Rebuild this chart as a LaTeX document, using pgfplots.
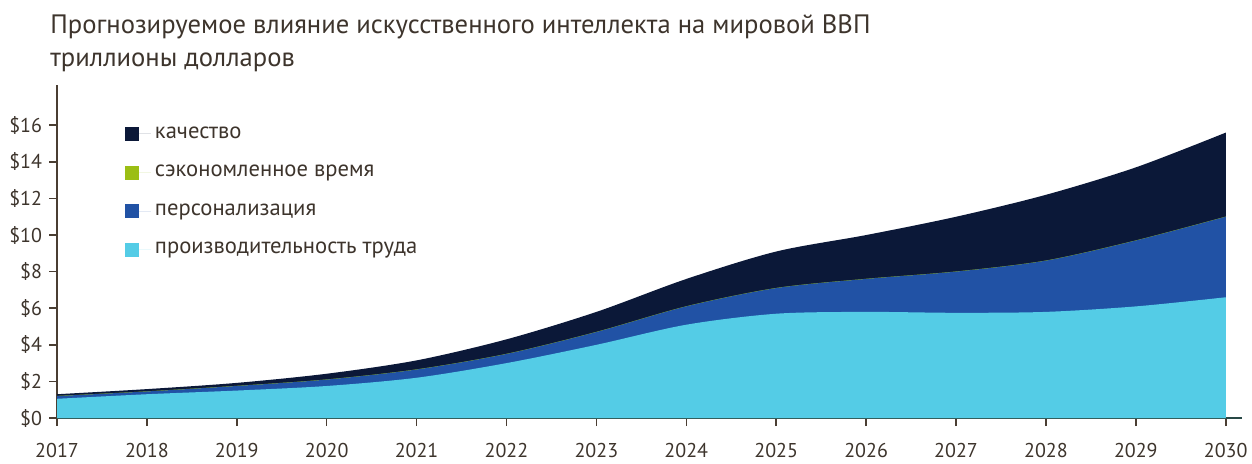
\documentclass[border=0pt]{standalone}
\usepackage{fontspec}
\setmainfont{PT Sans}
\usepackage{pgfplots}
\pgfplotsset{compat=1.18}

\definecolor{prodcol}{RGB}{84,204,230}
\definecolor{perscol}{RGB}{33,82,165}
\definecolor{timecol}{RGB}{155,190,20}
\definecolor{qualcol}{RGB}{11,24,56}
\definecolor{txtcol}{RGB}{61,52,44}
\definecolor{yaxcol}{RGB}{74,62,51}
\definecolor{xaxcol}{RGB}{40,72,70}

% cumulative tops of the stacked areas, trillion USD
\begin{document}
\begin{tikzpicture}
\path[use as bounding box] (0,0) rectangle (626pt,231.5pt);

\node[anchor=base west, font=\fontsize{13.3}{15}\selectfont, text=txtcol, inner sep=0pt]
  at (25pt,215pt) {Прогнозируемое влияние искусственного интеллекта на мировой ВВП};
\node[anchor=base west, font=\fontsize{13.3}{15}\selectfont, text=txtcol, inner sep=0pt]
  at (25pt,198.5pt) {триллионы долларов};

\begin{axis}[
  at={(28.5pt,22.5pt)}, anchor=south west,
  scale only axis,
  width=592.5pt, height=166.5pt,
  xmin=2017, xmax=2030.18,
  ymin=0, ymax=18.2,
  axis lines*=left,
  axis line style={-},
  x axis line style={xaxcol, line width=1.2pt},
  y axis line style={yaxcol, line width=1pt},
  xtick={2017,...,2030},
  ytick={0,2,...,16},
  tick align=outside,
  major tick length=4pt,
  tick style={yaxcol, line width=0.8pt},
  /pgf/number format/1000 sep={},
  /pgf/number format/assume math mode=true,
  yticklabel={\$\pgfmathprintnumber{\tick}},
  ticklabel style={font=\fontsize{10}{12}\selectfont, text=txtcol},
  xticklabel style={yshift=-5pt},
  legend style={at={(0.057,0.888)}, anchor=north west, draw=none, fill=none,
    font=\fontsize{11.3}{13}\selectfont, text=txtcol,
    row sep=8pt, inner sep=0pt},
  legend cell align=left,
  legend image code/.code={\fill[#1] (0pt,-3.5pt) rectangle (7pt,3.5pt);
    \path (0pt,0pt) -- (13pt,0pt);},
  clip=false,
]
\addplot[draw=none, fill=qualcol, smooth] coordinates {
 (2017,1.3) (2018,1.58) (2019,1.92) (2020,2.42) (2021,3.15) (2022,4.3) (2023,5.8)
 (2024,7.6) (2025,9.1) (2026,10.0) (2027,11.0) (2028,12.2) (2029,13.7) (2030,15.6)
} \closedcycle;
\addplot[draw=none, fill=timecol, smooth] coordinates {
 (2017,1.21) (2018,1.46) (2019,1.76) (2020,2.11) (2021,2.66) (2022,3.51) (2023,4.71)
 (2024,6.11) (2025,7.11) (2026,7.61) (2027,8.01) (2028,8.61) (2029,9.71) (2030,11.01)
} \closedcycle;
\addplot[draw=none, fill=perscol, smooth] coordinates {
 (2017,1.2) (2018,1.45) (2019,1.75) (2020,2.1) (2021,2.65) (2022,3.5) (2023,4.7)
 (2024,6.1) (2025,7.1) (2026,7.6) (2027,8.0) (2028,8.6) (2029,9.7) (2030,11.0)
} \closedcycle;
\addplot[draw=none, fill=prodcol, smooth] coordinates {
 (2017,1.05) (2018,1.3) (2019,1.5) (2020,1.75) (2021,2.2) (2022,3.0) (2023,4.0)
 (2024,5.1) (2025,5.7) (2026,5.8) (2027,5.75) (2028,5.8) (2029,6.1) (2030,6.6)
} \closedcycle;
\legend{качество, сэкономленное время, персонализация, производительность труда}
\end{axis}
\end{tikzpicture}
\end{document}
